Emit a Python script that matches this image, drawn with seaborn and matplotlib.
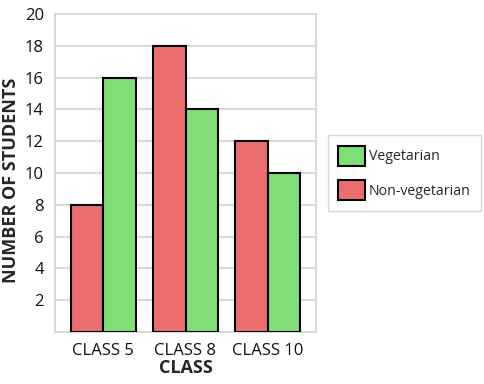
import pandas as pd
import matplotlib.pyplot as plt
import seaborn as sns

# dados do gráfico
classes = ["CLASS 5", "CLASS 8", "CLASS 10"]
nao_vegetariano = [8, 18, 12]
vegetariano = [16, 14, 10]
series = ["Non-vegetarian", "Vegetarian"]
cores = {"Non-vegetarian": "#ec6d6d", "Vegetarian": "#80de76"}

df = pd.DataFrame({
    "Class": classes * 2,
    "Students": nao_vegetariano + vegetariano,
    "Diet": [series[0]] * 3 + [series[1]] * 3,
})

sns.set_style("white")
plt.rcParams["font.family"] = ["Open Sans", "DejaVu Sans"]

fig = plt.figure(figsize=(4.84, 3.84), dpi=100)
ax = fig.add_axes([55 / 484, 1 - 332 / 384, 261 / 484, 318 / 384])

sns.barplot(data=df, x="Class", y="Students", hue="Diet", hue_order=series,
            palette=cores, width=0.8, edgecolor="black", linewidth=1.5,
            saturation=1, ax=ax, zorder=3)

ax.set_ylim(0, 20)
ax.set_xlim(-0.59, 2.59)
ax.set_yticks(range(2, 21, 2))
ax.grid(axis="y", color="#d9d9d9", linewidth=1.5, zorder=0)
for s in ax.spines.values():
    s.set_color("#d9d9d9")
    s.set_linewidth(1.5)
ax.tick_params(axis="both", length=0, labelsize=12, colors="#111111", pad=8)
ax.set_xlabel("CLASS", fontsize=13, fontweight="bold", labelpad=0)
ax.set_ylabel("NUMBER OF STUDENTS", fontsize=13, fontweight="bold")
ax.yaxis.set_label_coords(-0.135, 0.478)

handles, labels = ax.get_legend_handles_labels()
ax.legend(handles[::-1], labels[::-1], loc="center left", bbox_to_anchor=(1.045, 0.5),
          frameon=True, fancybox=False, edgecolor="#cccccc", fontsize=10.2,
          handlelength=1.85, handleheight=1.8, labelspacing=1.0, borderpad=0.75,
          handletextpad=0.3, borderaxespad=0)

plt.savefig("out.png", dpi=100)
